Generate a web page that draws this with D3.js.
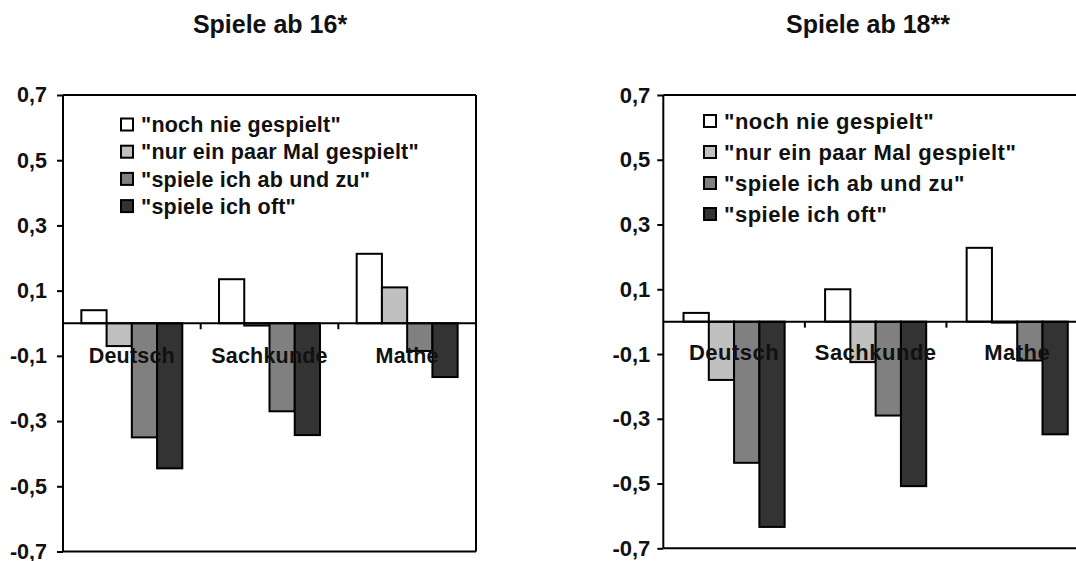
<!DOCTYPE html>
<html>
<head>
<meta charset="utf-8">
<script src="https://cdn.jsdelivr.net/npm/d3@7"></script>
<style>
    body { margin: 0; background: #fff; }
    text { font-family: "Liberation Sans", Arial, sans-serif; font-weight: bold; fill: #111; }
</style>
</head>
<body>
<svg id="chart" width="1076" height="561"></svg>
<script>
let categories = ['Deutsch', 'Sachkunde', 'Mathe'];
let seriesNames = ['"noch nie gespielt"', '"nur ein paar Mal gespielt"', '"spiele ich ab und zu"', '"spiele ich oft"'];
let seriesColors = ['#ffffff', '#c0c0c0', '#808080', '#333333'];
let yTicks = [0.7, 0.5, 0.3, 0.1, -0.1, -0.3, -0.5, -0.7];

// Spiele ab 16*
let nie16 = [0.04, 0.135, 0.213];
let paar16 = [-0.07, -0.007, 0.11];
let abUndZu16 = [-0.35, -0.27, -0.085];
let oft16 = [-0.445, -0.343, -0.165];

// Spiele ab 18**
let nie18 = [0.027, 0.10, 0.228];
let paar18 = [-0.18, -0.125, -0.003];
let abUndZu18 = [-0.436, -0.29, -0.12];
let oft18 = [-0.634, -0.508, -0.348];

let panels = [
    {title: 'Spiele ab 16*', series: [nie16, paar16, abUndZu16, oft16],
     left: 63, right: 476, top: 95, bottom: 551.5, titleX: 270,
     legendX: 121, legendY: 124.5, legendStep: 27.2, tickPad: 10,
     outer: 0.727, labelY: 363, fontSize: 21.5, spacing: 0.2, rightBorder: true},
    {title: 'Spiele ab 18**', series: [nie18, paar18, abUndZu18, oft18],
     left: 663.3, right: 1088, top: 95, bottom: 548.3, titleX: 868,
     legendX: 704, legendY: 121, legendStep: 31, tickPad: 7,
     outer: 0.8, labelY: 360, fontSize: 22, spacing: 0.5, rightBorder: false}
];

let svg = d3.select('#chart');
let fmt = d => d3.format('.1f')(d).replace('.', ',').replace('−', '-');

panels.forEach(function (p) {
    let g = svg.append('g');

    let y = d3.scaleLinear().domain([-0.7, 0.7]).range([p.bottom, p.top]);
    let x0 = d3.scaleBand().domain(categories).range([p.left, p.right]).padding(0);
    let x1 = d3.scaleBand().domain(d3.range(seriesNames.length))
        .range([0, x0.bandwidth()]).paddingInner(0).paddingOuter(p.outer);

    // title
    g.append('text')
        .attr('x', p.titleX).attr('y', 33)
        .attr('text-anchor', 'middle')
        .style('font-size', '25px')
        .text(p.title);

    // y axis
    let yAxis = d3.axisLeft(y).tickValues(yTicks).tickFormat(fmt).tickSize(6).tickPadding(p.tickPad);
    let ya = g.append('g').attr('transform', 'translate(' + p.left + ',0)').call(yAxis);
    ya.select('.domain').remove();
    ya.selectAll('.tick line').attr('stroke', '#000').attr('stroke-width', 2);
    ya.selectAll('.tick text').style('font-size', p.fontSize + 'px').style('font-family', null);

    // frame
    let frame = g.append('g').attr('stroke', '#000').attr('stroke-width', 2).attr('fill', 'none');
    frame.append('line').attr('x1', p.left).attr('x2', p.right).attr('y1', p.top).attr('y2', p.top);
    frame.append('line').attr('x1', p.left).attr('x2', p.right).attr('y1', p.bottom).attr('y2', p.bottom);
    frame.append('line').attr('x1', p.left).attr('x2', p.left).attr('y1', p.top).attr('y2', p.bottom);
    if (p.rightBorder) {
        frame.append('line').attr('x1', p.right).attr('x2', p.right).attr('y1', p.top).attr('y2', p.bottom);
    }

    // bars
    categories.forEach(function (cat, ci) {
        p.series.forEach(function (vals, si) {
            let v = vals[ci];
            g.append('rect')
                .attr('x', x0(cat) + x1(si))
                .attr('width', x1.bandwidth())
                .attr('y', y(Math.max(0, v)))
                .attr('height', Math.abs(y(v) - y(0)))
                .attr('fill', seriesColors[si])
                .attr('stroke', '#000')
                .attr('stroke-width', 2);
        });
    });

    // zero line with category ticks
    g.append('line')
        .attr('x1', p.left).attr('x2', p.right)
        .attr('y1', y(0)).attr('y2', y(0))
        .attr('stroke', '#000').attr('stroke-width', 2);
    categories.slice(1).forEach(function (cat) {
        g.append('line')
            .attr('x1', x0(cat)).attr('x2', x0(cat))
            .attr('y1', y(0)).attr('y2', y(0) + 6)
            .attr('stroke', '#000').attr('stroke-width', 2);
    });

    // category labels
    g.selectAll('.cat').data(categories).enter().append('text')
        .attr('x', d => x0(d) + x0.bandwidth() / 2)
        .attr('y', p.labelY)
        .attr('text-anchor', 'middle')
        .style('font-size', p.fontSize + 'px')
        .style('letter-spacing', p.spacing + 'px')
        .text(d => d);

    // legend
    seriesNames.forEach(function (name, i) {
        let cy = p.legendY + i * p.legendStep;
        g.append('rect')
            .attr('x', p.legendX).attr('y', cy - 6)
            .attr('width', 12).attr('height', 12)
            .attr('fill', seriesColors[i])
            .attr('stroke', '#000').attr('stroke-width', 2);
        g.append('text')
            .attr('x', p.legendX + 20).attr('y', cy)
            .attr('dy', '0.36em')
            .style('font-size', p.fontSize + 'px')
            .style('letter-spacing', p.spacing + 'px')
            .text(name);
    });
});
</script>
</body>
</html>
